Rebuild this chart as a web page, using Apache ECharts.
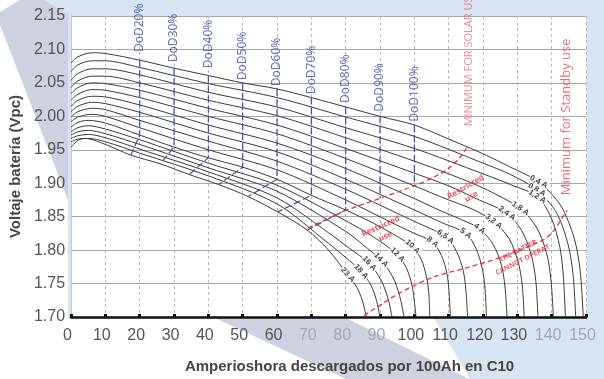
<!DOCTYPE html>
<html>
<head>
<meta charset="utf-8">
<script src="https://cdn.jsdelivr.net/npm/echarts/dist/echarts.min.js"></script>
<style>
  html, body { margin: 0; padding: 0; background: #fff; }
  #chart { width: 604px; height: 379px; }
</style>
</head>
<body>
<div id="chart"></div>
<script>
// discharge curves, [Ah per 100Ah C10, V per cell]
const c04 = [[0,2.080],[2,2.089],[6,2.095],[10,2.094],[20,2.084],[30,2.072],[40,2.061],[50,2.050],[60,2.041],[70,2.028],[80,2.014],[90,2.000],[100,1.987],[110,1.966],[120,1.944],[128,1.924],[136.2,1.902],[142.7,1.866],[146.6,1.817],[148.3,1.769],[149.2,1.700]];
const c08 = [[0,2.067],[2,2.077],[6,2.083],[10,2.083],[20,2.073],[40,2.049],[60,2.028],[80,1.999],[100,1.970],[120,1.930],[128,1.913],[135.7,1.890],[141.4,1.856],[144.7,1.810],[146.2,1.765],[147,1.700]];
const c12 = [[0,2.054],[2,2.064],[6,2.071],[10,2.071],[20,2.062],[40,2.036],[60,2.014],[80,1.983],[100,1.952],[120,1.914],[128,1.898],[135.8,1.880],[139.9,1.848],[142.4,1.804],[143.4,1.761],[144,1.700]];
const c18 = [[0,2.043],[2,2.053],[6,2.060],[10,2.060],[20,2.050],[40,2.024],[60,2.001],[80,1.968],[100,1.933],[110,1.914],[120,1.893],[130.9,1.862],[135.7,1.833],[138.6,1.794],[139.8,1.755],[140.5,1.700]];
const c24 = [[0,2.034],[2,2.043],[6,2.050],[10,2.049],[20,2.039],[40,2.012],[60,1.987],[80,1.952],[100,1.915],[110,1.896],[118,1.877],[127,1.855],[131.5,1.827],[134.2,1.790],[135.4,1.753],[136,1.700]];
const c32 = [[0,2.024],[2,2.033],[6,2.040],[10,2.039],[20,2.028],[40,2.000],[60,1.974],[80,1.937],[100,1.896],[110,1.875],[117,1.861],[123.1,1.843],[127.6,1.817],[130.2,1.783],[131.4,1.749],[132,1.700]];
const c40 = [[0,2.015],[2,2.024],[6,2.030],[10,2.029],[20,2.017],[40,1.987],[60,1.960],[80,1.922],[100,1.877],[108,1.858],[114,1.845],[119,1.832],[123,1.808],[125.4,1.777],[126.4,1.745],[127,1.700]];
const c50 = [[0,2.007],[2,2.015],[6,2.021],[10,2.019],[20,2.006],[40,1.975],[60,1.947],[80,1.906],[100,1.860],[108,1.841],[115,1.825],[118,1.802],[119.8,1.772],[120.6,1.742],[121,1.700]];
const c65 = [[0,1.999],[2,2.007],[6,2.012],[10,2.010],[20,1.994],[40,1.963],[60,1.933],[80,1.891],[95,1.855],[100,1.843],[109.1,1.820],[112.3,1.798],[114.2,1.770],[115,1.741],[115.5,1.700]];
const c80 = [[0,1.992],[2,1.999],[6,2.003],[10,2.000],[20,1.983],[40,1.950],[60,1.920],[80,1.875],[95,1.837],[100,1.825],[105.3,1.812],[107.9,1.792],[109.5,1.765],[110.1,1.738],[110.5,1.700]];
const c100 = [[0,1.984],[2,1.991],[5,1.994],[10,1.990],[20,1.972],[30,1.954],[40,1.938],[50,1.924],[60,1.906],[70,1.882],[80,1.860],[90,1.835],[99.5,1.805],[102,1.786],[103.5,1.761],[104.2,1.736],[104.5,1.700]];
const c120 = [[0,1.977],[2,1.983],[5,1.986],[10,1.981],[20,1.965],[40,1.930],[60,1.897],[80,1.844],[88,1.820],[95.1,1.793],[97.8,1.772],[99.4,1.745],[100.5,1.700]];
const c140 = [[0,1.972],[2,1.977],[5,1.979],[10,1.974],[20,1.958],[40,1.923],[60,1.888],[80,1.828],[85,1.808],[90.3,1.785],[93.7,1.760],[95.7,1.732],[97,1.700]];
const c160 = [[0,1.967],[2,1.971],[5,1.973],[10,1.968],[20,1.951],[40,1.917],[60,1.878],[75,1.826],[81,1.803],[86.9,1.780],[90.2,1.756],[92.2,1.730],[93.5,1.700]];
const c180 = [[0,1.962],[2,1.966],[5,1.967],[10,1.962],[20,1.945],[40,1.911],[60,1.869],[75,1.810],[80,1.789],[84.5,1.768],[87.3,1.748],[88.9,1.726],[90,1.700]];
const c230 = [[0,1.954],[2,1.964],[4,1.967],[10,1.958],[17.4,1.942],[26,1.929],[34.4,1.913],[43,1.898],[51.6,1.880],[60.2,1.857],[68.8,1.830],[75,1.800],[80.6,1.763],[83.3,1.744],[84.9,1.724],[86,1.700]];

const curves = [c04, c08, c12, c18, c24, c32, c40, c50, c65, c80, c100, c120, c140, c160, c180, c230];
const currents = ['0,4 A', '0,8 A', '1,2 A', '1,8 A', '2,4 A', '3,2 A', '4 A', '5 A', '6,5 A', '8 A', '10 A', '12 A', '14 A', '16 A', '18 A', '23 A'];
// where each current name sits on its curve
const currentAt = [[136.2,1.902],[135.7,1.890],[135.8,1.880],[130.9,1.862],[127,1.855],[123.1,1.843],[119,1.832],[115,1.825],[109.1,1.820],[105.3,1.812],[99.5,1.805],[95.1,1.793],[90.3,1.785],[86.9,1.780],[84.5,1.768],[80.6,1.763]];
const currentTilt = [-28, -30, -32, -34, -36, -38, -38, -38, -36, -40, -44, -46, -46, -47, -48, -48];

// depth of discharge markers
const dodNames = ['DoD20%', 'DoD30%', 'DoD40%', 'DoD50%', 'DoD60%', 'DoD70%', 'DoD80%', 'DoD90%', 'DoD100%'];
const dodLines = [
  [[20,2.084],[20,1.972],[17.4,1.942]],
  [[30,2.072],[30,1.954],[26,1.929]],
  [[40,2.061],[40,1.938],[34.4,1.913]],
  [[50,2.050],[50,1.924],[43,1.898]],
  [[60,2.041],[60,1.906],[51.6,1.880]],
  [[70,2.028],[70,1.882],[60.2,1.857]],
  [[80,2.014],[80,1.860],[68.8,1.830]],
  [[90,2.000],[90,1.878]],
  [[100,1.987],[100,1.897]]
];
const dodTextBase = [2.096, 2.081, 2.072, 2.054, 2.045, 2.033, 2.020, 2.007, 1.992];

// red limits
const solarLimit = [[69,1.833],[80,1.859],[90.3,1.878],[100.4,1.897],[106,1.910],[110,1.922],[113.5,1.940],[115.5,1.955]];
const standbyLimit = [[85.4,1.702],[96.1,1.737],[105.7,1.760],[115.5,1.774],[125.1,1.789],[132.9,1.805],[137.5,1.815],[140.4,1.828],[143.3,1.850],[144.5,1.860]];

const fadedX = [70, 80, 90, 140, 150];

const chart = echarts.init(document.getElementById('chart'));

const series = [];
curves.forEach(c => {
  series.push({
    type: 'line', data: c, symbol: 'none', smooth: 0.3, silent: true, z: 2,
    lineStyle: { color: '#3a3a3a', width: 1 }
  });
});
dodLines.forEach(d => {
  series.push({
    type: 'line', data: d, symbol: 'none', silent: true, z: 3,
    lineStyle: { color: '#3a4ea6', width: 1.2, type: [7, 3] }
  });
});
series.push({
  type: 'line', data: solarLimit, symbol: 'none', smooth: 0.3, silent: true, z: 4,
  lineStyle: { color: '#e5323f', width: 1.3, type: [5, 3] }
});
series.push({
  type: 'line', data: standbyLimit, symbol: 'none', smooth: 0.3, silent: true, z: 4,
  lineStyle: { color: '#e5323f', width: 1.3, type: [5, 3] }
});

// current names on the curves
series.push({
  type: 'scatter', symbolSize: 0, silent: true, z: 6,
  data: currentAt.map((p, i) => ({
    value: p,
    label: { formatter: currents[i], rotate: currentTilt[i] }
  })),
  label: {
    show: true, position: 'inside', color: '#111', fontSize: 8, fontWeight: 'bold',
    fontFamily: 'Liberation Sans', backgroundColor: '#fff', padding: [0, 1]
  }
});

// DoD names, vertical
series.push({
  type: 'scatter', symbolSize: 0, silent: true, z: 6,
  data: dodNames.map((n, i) => ({
    value: [dodLines[i][0][0], dodTextBase[i]],
    label: { formatter: n }
  })),
  label: {
    show: true, position: [0, 0], rotate: 90, align: 'left', verticalAlign: 'middle',
    color: '#3a4ea6', fontSize: 12, fontFamily: 'Noto Sans'
  }
});

// red notes
series.push({
  type: 'scatter', symbolSize: 0, silent: true, z: 6,
  data: [
    { value: [115.8, 1.985], label: { formatter: 'MINIMUM FOR SOLAR USE', rotate: 90, align: 'left', fontSize: 11, color: '#e86a78', fontWeight: 'normal' } },
    { value: [144.2, 1.882], label: { formatter: 'Minimum for Standby use', rotate: 90, align: 'left', fontSize: 13, color: '#e24c5b', fontWeight: 'normal' } },
    { value: [90.9, 1.828], label: { formatter: 'Restricted\nuse', rotate: 24 } },
    { value: [115.8, 1.887], label: { formatter: 'Restricted\nuse', rotate: 30 } },
    { value: [130.9, 1.792], label: { formatter: 'THE BATTER\nCANNOT OPERAT', rotate: 27, fontSize: 7, lineHeight: 10 } }
  ],
  label: {
    show: true, position: [0, 0], align: 'center', verticalAlign: 'middle',
    color: '#e0303e', fontSize: 8, lineHeight: 11, fontWeight: 'bold', fontFamily: 'Open Sans'
  }
});

const option = {
  animation: false,
  backgroundColor: '#ffffff',
  graphic: {
    elements: [
      { type: 'polygon', z: -10, shape: { points: [[42,0],[604,0],[604,379],[470,379],[434,318],[68,318],[68,14]] }, style: { fill: '#d6e5f1' } },
      { type: 'polygon', z: -10, shape: { points: [[20,0],[44,0],[68,14],[68,200],[0,25],[0,12]] }, style: { fill: '#cdd1e0' } },
      { type: 'polygon', z: -10, shape: { points: [[215,318],[346,318],[469,379],[346,379]] }, style: { fill: '#cdd1e0' } }
    ]
  },
  grid: { left: 68, right: 18, top: 16, bottom: 62, show: true, backgroundColor: '#fff', borderWidth: 0 },
  xAxis: {
    type: 'value', min: 0, max: 150, interval: 10,
    name: 'Amperioshora descargados por 100Ah en C10',
    nameLocation: 'middle', nameGap: 42,
    nameTextStyle: { fontSize: 15, fontWeight: 'bold', color: '#454545', fontFamily: 'Liberation Sans', padding: [0, 0, 0, 42] },
    axisLine: { lineStyle: { color: '#111', width: 2.5 } },
    axisTick: { show: true, inside: true, length: 3, lineStyle: { color: '#111', width: 3 } },
    axisLabel: {
      margin: 11, fontSize: 16, fontFamily: 'Liberation Sans', padding: [0, 7, 0, 0],
      color: v => fadedX.includes(Number(v)) ? '#a2a8b0' : '#555'
    },
    splitLine: { show: true, lineStyle: { color: '#b8b8b8', width: 1, type: [3, 3] } }
  },
  yAxis: {
    type: 'value', min: 1.7, max: 2.15, interval: 0.05,
    name: 'Voltaje batería (Vpc)',
    nameLocation: 'middle', nameGap: 46,
    nameTextStyle: { fontSize: 15, fontWeight: 'bold', color: '#454545', fontFamily: 'Liberation Sans' },
    axisLine: { show: true, lineStyle: { color: '#c8c8c8', width: 1 } },
    axisTick: { show: false },
    axisLabel: {
      margin: 6, fontSize: 16, fontFamily: 'Liberation Sans', color: '#555',
      formatter: v => v.toFixed(2)
    },
    splitLine: { show: true, lineStyle: { color: '#a8a8a8', width: 1.2 } }
  },
  series: series
};

chart.setOption(option);
window.addEventListener('resize', () => chart.resize());
</script>
</body>
</html>
